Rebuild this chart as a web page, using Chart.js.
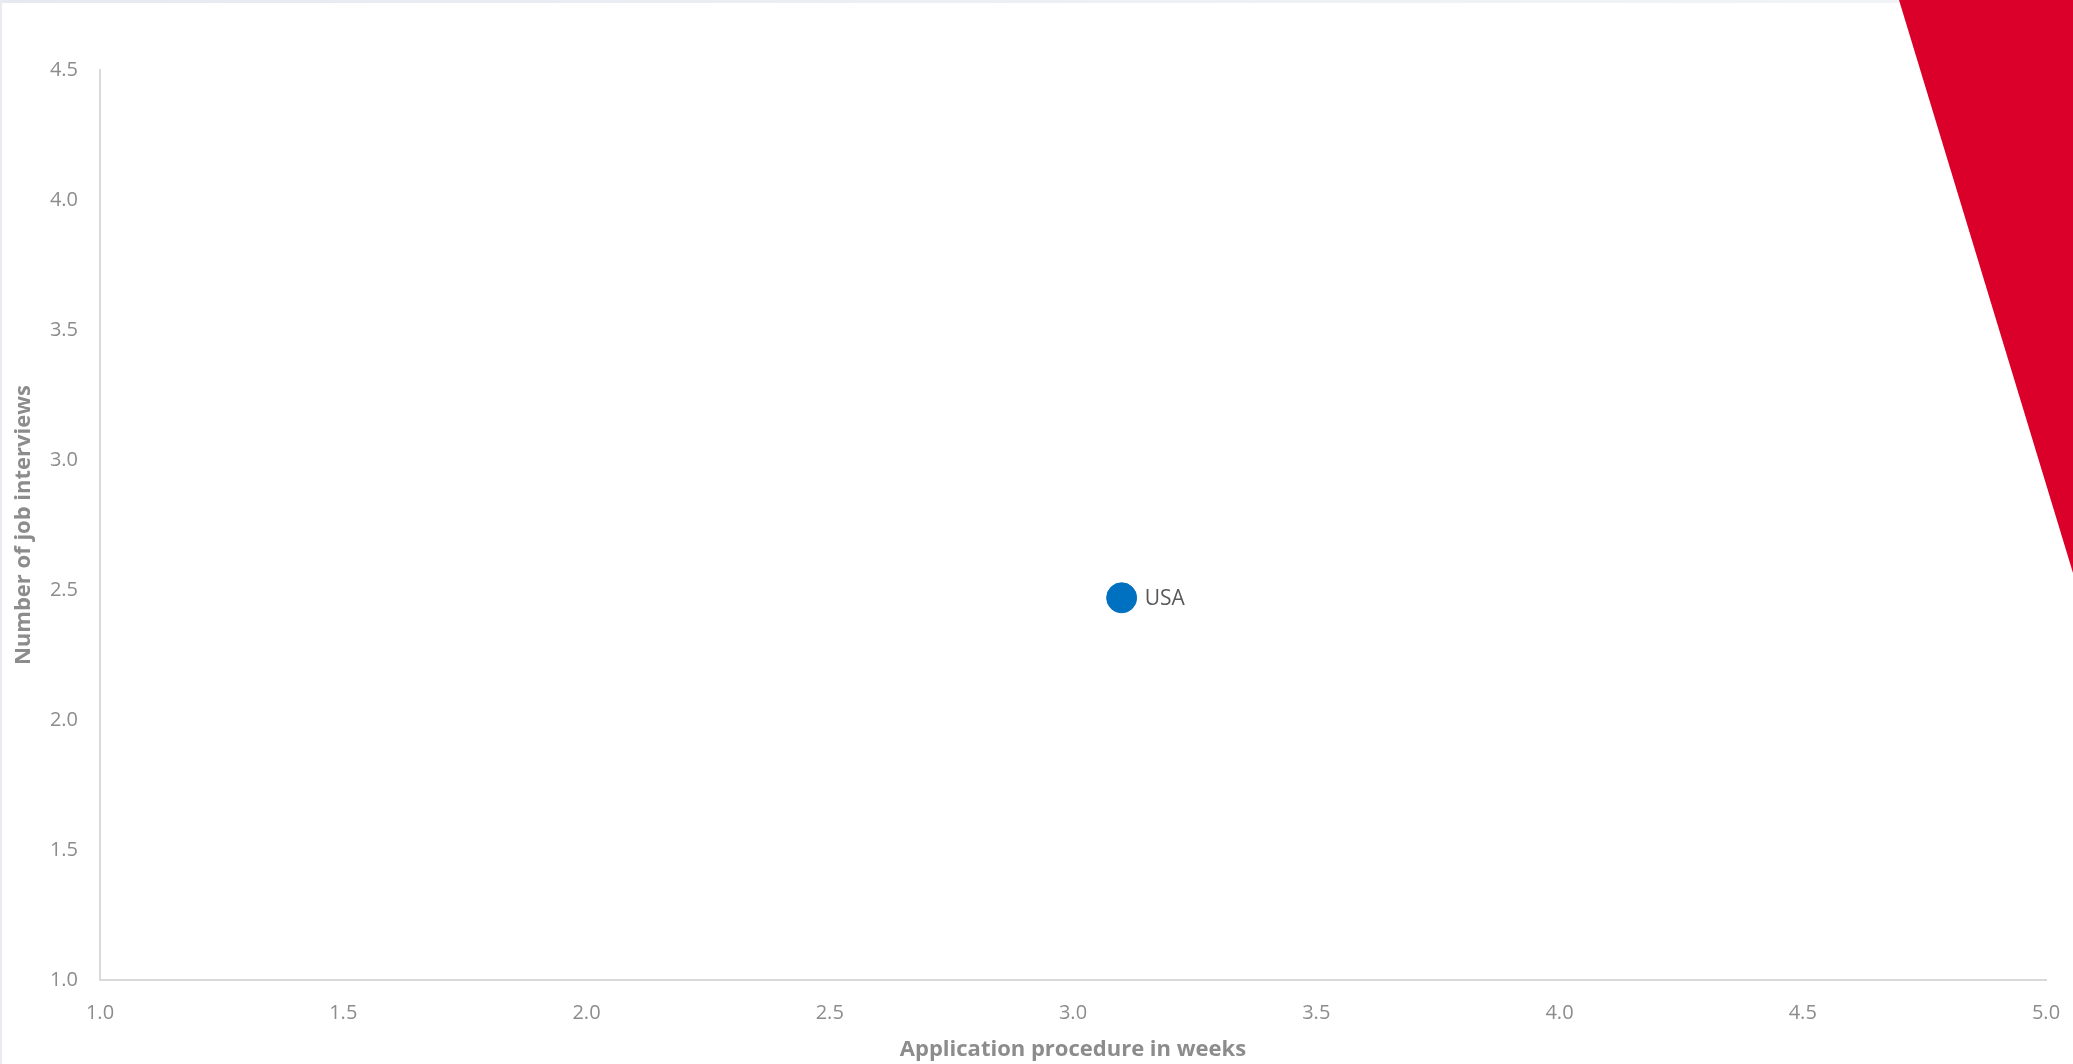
<!DOCTYPE html>
<html>
<head>
<meta charset="utf-8">
<script src="https://cdn.jsdelivr.net/npm/chart.js@4"></script>
<style>
  html, body { margin: 0; padding: 0; background: #fff; }
  #wrap { width: 2073px; height: 1064px; position: relative; }
</style>
</head>
<body>
<div id="wrap"><canvas id="myChart"></canvas></div>
<script>
const countries = ['USA'];
const weeks = [3.1];
const interviews = [2.47];
const xTicks = [1.0, 1.5, 2.0, 2.5, 3.0, 3.5, 4.0, 4.5, 5.0];
const yTicks = [1.0, 1.5, 2.0, 2.5, 3.0, 3.5, 4.0, 4.5];

const gray = '#8c8c8c';
const font = 'Open Sans';

// frame + red corner shape
const decor = {
  id: 'decor',
  beforeDraw(chart) {
    const { ctx, width } = chart;
    ctx.save();
    const g = ctx.createLinearGradient(0, 0, width, 0);
    g.addColorStop(0, '#e6eaf0');
    g.addColorStop(1, '#f2f4f7');
    ctx.fillStyle = g;
    ctx.fillRect(0, 0, width, 3);
    ctx.fillStyle = '#e8ecf1';
    ctx.fillRect(0, 0, 2, chart.height);
    ctx.restore();
  },
  afterDraw(chart) {
    const { ctx, width } = chart;
    ctx.save();
    ctx.fillStyle = '#da0029';
    ctx.beginPath();
    ctx.moveTo(1899, 0);
    ctx.lineTo(width, 0);
    ctx.lineTo(width, 573);
    ctx.closePath();
    ctx.fill();
    ctx.restore();
  }
};

const pointLabels = {
  id: 'pointLabels',
  afterDatasetsDraw(chart) {
    const { ctx } = chart;
    const meta = chart.getDatasetMeta(0);
    ctx.save();
    ctx.font = '21px "' + font + '"';
    ctx.fillStyle = '#595959';
    ctx.textAlign = 'left';
    ctx.textBaseline = 'middle';
    meta.data.forEach((pt, i) => {
      ctx.fillText(countries[i], pt.x + 23, pt.y + 1);
    });
    ctx.restore();
  }
};

const ctx = document.getElementById('myChart');
new Chart(ctx, {
  type: 'scatter',
  data: {
    datasets: [{
      label: 'Countries',
      data: weeks.map((w, i) => ({ x: w, y: interviews[i] })),
      backgroundColor: '#0070c0',
      borderColor: '#0070c0',
      pointRadius: 15,
      pointHoverRadius: 15
    }]
  },
  options: {
    responsive: true,
    maintainAspectRatio: false,
    animation: false,
    layout: { padding: { top: 70, right: 27, left: 0, bottom: 0 } },
    scales: {
      x: {
        type: 'linear',
        min: xTicks[0],
        max: xTicks[xTicks.length - 1],
        afterBuildTicks: s => { s.ticks = xTicks.map(v => ({ value: v })); },
        afterFit: s => { s.height = 84; s.paddingLeft = 0; s.paddingRight = 0; },
        grid: { display: false, drawTicks: false },
        border: { display: true, color: '#d9d9d9', width: 2 },
        ticks: {
          color: gray, font: { family: font, size: 20 }, padding: 21,
          maxRotation: 0, callback: v => Number(v).toFixed(1)
        },
        title: {
          display: true, text: 'Application procedure in weeks', color: gray,
          font: { family: font, size: 22, weight: 'bold', lineHeight: 1.2 },
          padding: { top: 0, bottom: 1 }
        }
      },
      y: {
        type: 'linear',
        min: yTicks[0],
        max: yTicks[yTicks.length - 1],
        afterBuildTicks: s => { s.ticks = yTicks.map(v => ({ value: v })); },
        afterFit: s => { s.width = 100; s.paddingTop = 0; s.paddingBottom = 0; },
        grid: { display: false, drawTicks: false },
        border: { display: true, color: '#d9d9d9', width: 2 },
        ticks: {
          color: gray, font: { family: font, size: 20 }, padding: 22,
          callback: v => Number(v).toFixed(1)
        },
        title: {
          display: true, text: 'Number of job interviews', color: gray,
          font: { family: font, size: 22, weight: 'bold', lineHeight: 1.2 },
          padding: { top: 11, bottom: 0 }
        }
      }
    },
    plugins: {
      legend: { display: false },
      tooltip: { enabled: false }
    }
  },
  plugins: [decor, pointLabels]
});
</script>
</body>
</html>
